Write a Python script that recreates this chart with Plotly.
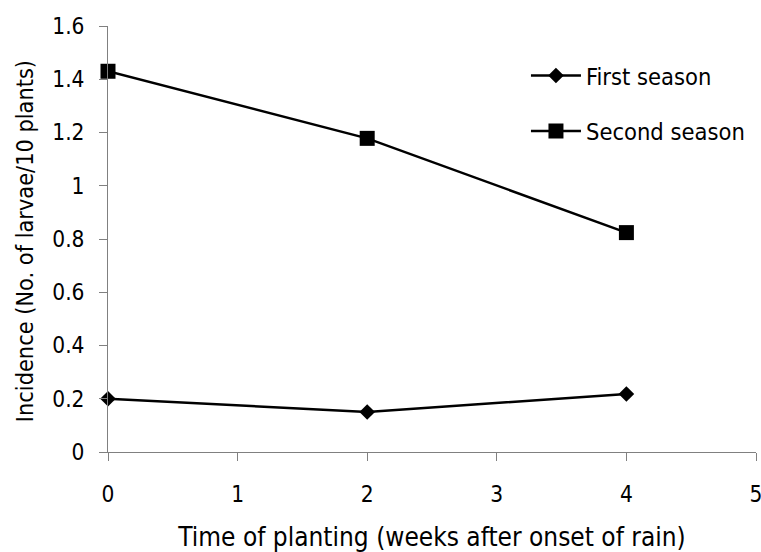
import plotly.graph_objects as go

weeks = [0, 2, 4]
first_season = [0.20, 0.15, 0.218]
second_season = [1.43, 1.178, 0.824]
x_ticks = [0, 1, 2, 3, 4, 5]
y_ticks = [0, 0.2, 0.4, 0.6, 0.8, 1.0, 1.2, 1.4, 1.6]
y_tick_labels = ["0", "0.2", "0.4", "0.6", "0.8", "1", "1.2", "1.4", "1.6"]
x_title = "Time of planting (weeks after onset of rain)"
y_title = "Incidence (No. of larvae/10 plants)"

FONT = "DejaVu Sans Condensed, Liberation Sans Narrow, Arial Narrow, sans-serif"

fig = go.Figure()
fig.add_trace(go.Scatter(
    x=weeks, y=first_season, name="First season", mode="lines+markers",
    line=dict(color="black", width=2.5),
    marker=dict(symbol="diamond", size=12, color="black"),
    legendgroup="a", cliponaxis=False,
))
fig.add_trace(go.Scatter(
    x=weeks, y=second_season, name="Second season", mode="lines+markers",
    line=dict(color="black", width=2.5),
    marker=dict(symbol="square", size=15, color="black"),
    legendgroup="b", cliponaxis=False,
))

fig.add_annotation(
    text=y_title, textangle=-90, xref="paper", yref="paper",
    x=-0.1296, y=0.495, xanchor="center", yanchor="middle",
    showarrow=False, font=dict(family=FONT, size=23.3, color="black"),
)

fig.update_layout(
    width=761, height=552,
    margin=dict(l=108, r=5, t=26, b=100),
    paper_bgcolor="white", plot_bgcolor="white",
    font=dict(family=FONT, size=22.5, color="black"),
    showlegend=True,
    legend=dict(
        x=0.645, y=0.935, xanchor="left", yanchor="top",
        bgcolor="rgba(0,0,0,0)", tracegroupgap=22,
        itemwidth=50, font=dict(size=23.5),
    ),
    xaxis=dict(
        range=[0, 5], tickvals=x_ticks, ticks="outside", ticklen=8,
        tickcolor="#808080", showline=True, linecolor="#808080", linewidth=1,
        showgrid=False, zeroline=False, ticklabeloverflow="allow",
        ticklabelstandoff=14, automargin=False,
        title=dict(text=x_title, standoff=22, font=dict(size=26)),
    ),
    yaxis=dict(
        range=[0, 1.6], tickvals=y_ticks, ticktext=y_tick_labels,
        ticks="outside", ticklen=8,
        tickcolor="#808080", showline=True, linecolor="#808080", linewidth=1,
        showgrid=False, zeroline=False, ticklabelstandoff=10, automargin=False,
    ),
)

fig.write_html("out.html")
